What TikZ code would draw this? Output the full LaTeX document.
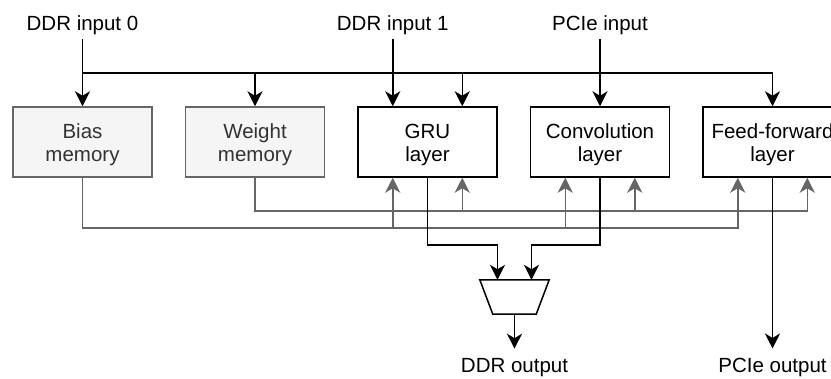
\documentclass[tikz,border=0pt]{standalone}
\usepackage{fontspec}
\setmainfont{Liberation Sans}
\usetikzlibrary{arrows.meta}
\definecolor{gfill}{HTML}{F5F5F5}
\definecolor{gline}{HTML}{666666}
\definecolor{gtext}{HTML}{333333}
\newcommand\firstln{\rule{0pt}{20.35pt}}
\begin{document}
\begin{tikzpicture}[x=1pt,y=-1pt,
  every node/.style={font=\fontsize{20.5}{23.4}\selectfont},
  blk/.style={draw=black,line width=1.5pt,fill=white,minimum width=139pt,minimum height=70pt,align=center,inner sep=0pt},
  mem/.style={blk,draw=gline,fill=gfill,text=gtext},
  lbl/.style={anchor=base,inner xsep=0pt},
  conn/.style={line width=1.5pt,-{Stealth[length=15pt,width=15pt,inset=4.5pt]}},
  wire/.style={line width=1.5pt},
  gconn/.style={conn,gline}]
\useasboundingbox (0,0) rectangle (831,378);
% blocks
\node[mem] (bias) at (82.5,142) {\firstln Bias\\memory};
\node[mem] (weight) at (255,142) {\firstln Weight\\memory};
\node[blk] (gru) at (427.5,142) {\firstln GRU\\layer};
\node[blk] (conv) at (600,142) {\firstln Convolution\\layer};
\node[blk] (ff) at (772.5,142) {\firstln Feed-forward\\layer};
% labels
\node[lbl,inner ysep=4.6pt] (in0) at (82.5,30) {DDR input 0};
\node[lbl,inner ysep=4.6pt] (in1) at (392.75,30) {DDR input 1};
\node[lbl,inner ysep=4.6pt] (inp) at (600,30) {PCIe input};
\node[lbl,inner ysep=9pt] (outd) at (514.5,372) {DDR output};
\node[lbl,inner ysep=9pt] (outp) at (772.5,372) {PCIe output};
% ports
\coordinate (gruTL) at ([xshift=-34.75pt]gru.north);
\coordinate (gruTR) at ([xshift=34.75pt]gru.north);
\coordinate (gruBL) at ([xshift=-34.75pt]gru.south);
\coordinate (gruBR) at ([xshift=34.75pt]gru.south);
\coordinate (convBL) at ([xshift=-34.75pt]conv.south);
\coordinate (convBR) at ([xshift=34.75pt]conv.south);
\coordinate (ffBL) at ([xshift=-34.75pt]ff.south);
\coordinate (ffBR) at ([xshift=34.75pt]ff.south);
\coordinate (bus) at (0,73);
\coordinate (bl) at (0,228);
\coordinate (wl) at (0,211);
\coordinate (ol) at (0,245);
% inputs
\draw[conn] (in0.south) -- (bias.north);
\draw[conn] (bias.north |- bus) -| (ff.north);
\draw[conn] (weight.north |- bus) -- (weight.north);
\draw[conn] (gruTR |- bus) -- (gruTR);
\draw[conn] (in1.south) -- (gruTL);
\draw[conn] (inp.south) -- (conv.north);
% memory distribution
\draw[gconn] (bias.south) |- (bl -| ffBL) -- (ffBL);
\draw[gconn] (bl -| gruBL) -- (gruBL);
\draw[gconn] (bl -| convBL) -- (convBL);
\draw[gconn] (weight.south) |- (wl -| ffBR) -- (ffBR);
\draw[gconn] (wl -| gruBR) -- (gruBR);
\draw[gconn] (wl -| convBR) -- (convBR);
% mux
\node[minimum width=69pt,minimum height=34pt,inner sep=0pt] (mux) at (514.5,297) {};
\draw[wire,line join=miter] (mux.north west) -- (mux.north east) -- ([xshift=-13pt]mux.south east) -- ([xshift=13pt]mux.south west) -- cycle;
\coordinate (mL) at ([xshift=-17pt]mux.north);
\coordinate (mR) at ([xshift=17pt]mux.north);
\draw[conn] (gru.south) |- (ol -| mL) -- (mL);
\draw[conn] (conv.south) |- (ol -| mR) -- (mR);
\draw[conn] (mux.south) -- (outd.north);
\draw[conn] (ff.south) -- (outp.north);
\end{tikzpicture}
\end{document}
